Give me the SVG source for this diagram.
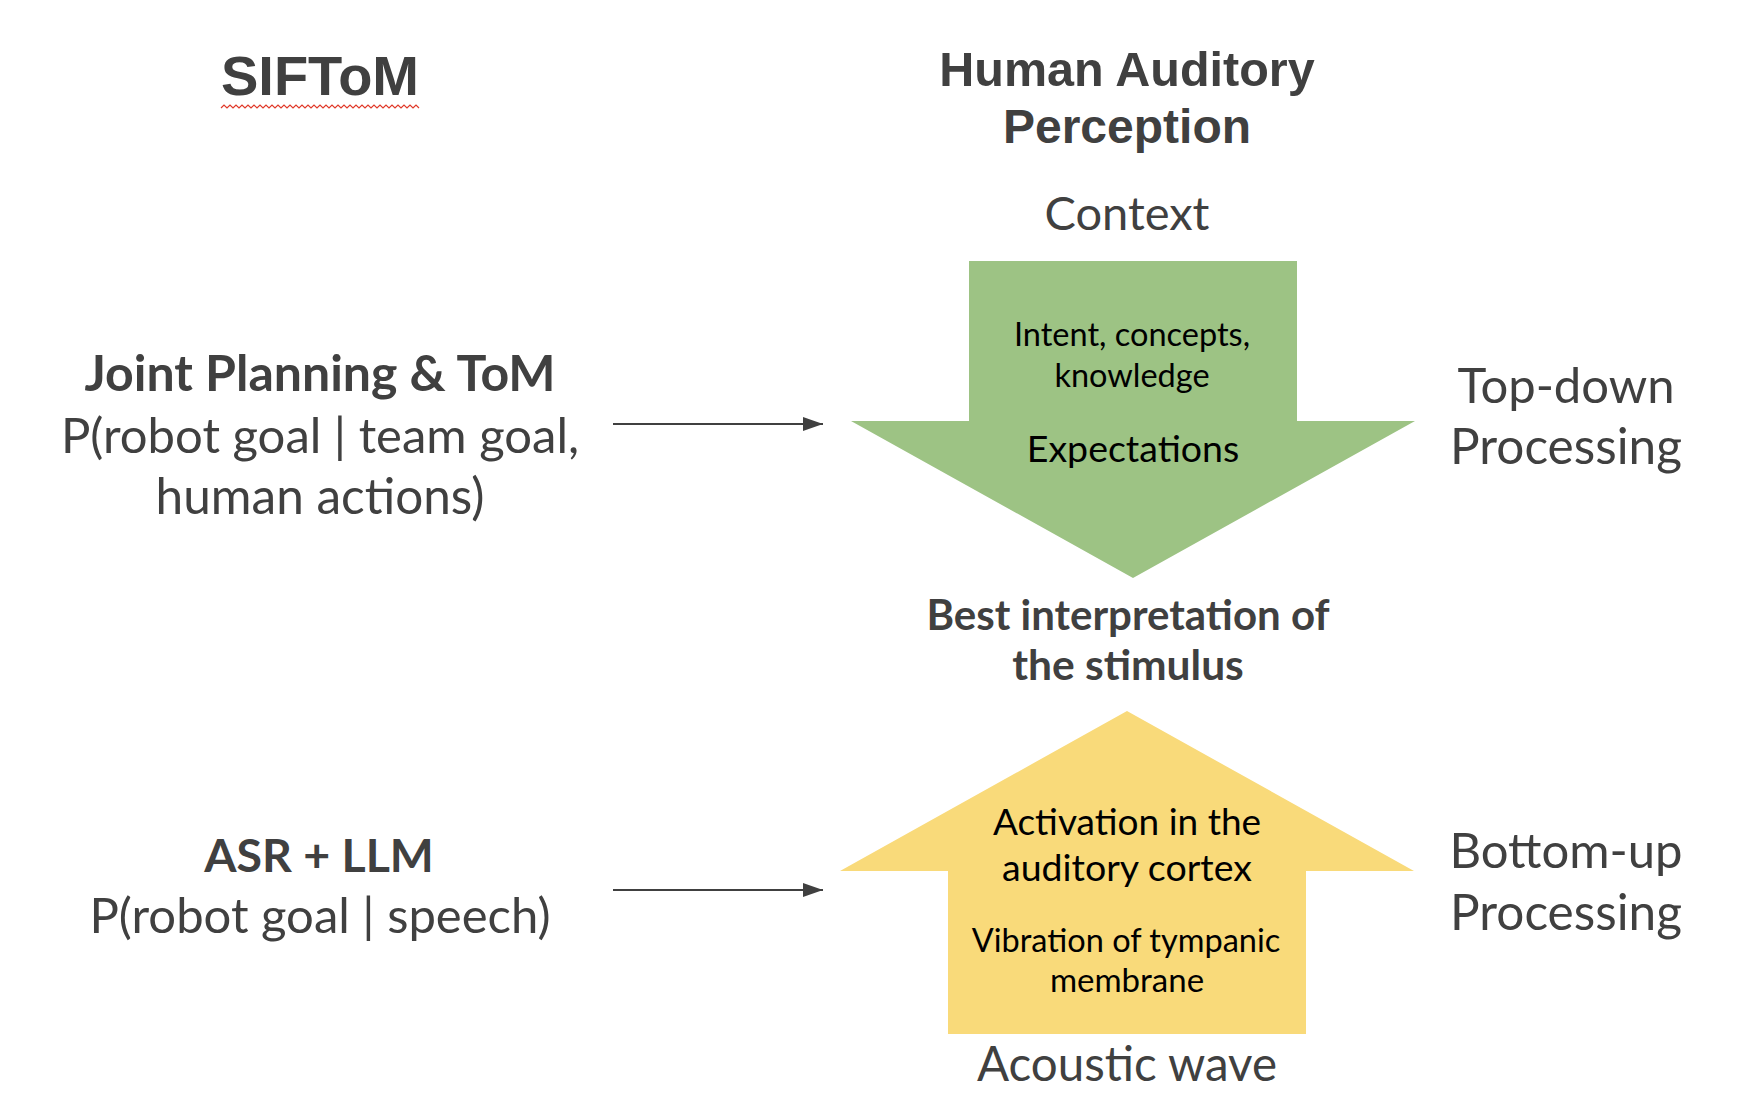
<svg xmlns="http://www.w3.org/2000/svg" width="1750" height="1118" viewBox="0 0 1750 1118">
<defs>
<style>
.t{font-family:Lato,"Noto Sans","DejaVu Sans",sans-serif;fill:#404040;text-anchor:middle}
.b{font-weight:bold}
.ar{font-family:"Liberation Sans",Arial,sans-serif;font-weight:bold;fill:#404040;text-anchor:middle}
.in{font-family:Lato,"Noto Sans","DejaVu Sans",sans-serif;fill:#000;text-anchor:middle}
.conn{stroke:#404040;stroke-width:2;fill:none}
</style>
<marker id="ah" viewBox="0 0 20 14" refX="20" refY="7" markerWidth="20" markerHeight="14" markerUnits="userSpaceOnUse" orient="auto">
<path d="M0,0 L20,7 L0,14 z" fill="#404040"/>
</marker>
</defs>
<rect width="1750" height="1118" fill="#fff"/>
<g id="title-siftom">
<text class="ar" x="320" y="95" font-size="56">SIFToM</text>
<path d="M221,108
l3,-3 l3,3 l3,-3 l3,3 l3,-3 l3,3 l3,-3 l3,3 l3,-3 l3,3 l3,-3 l3,3 l3,-3 l3,3 l3,-3 l3,3 l3,-3 l3,3 l3,-3 l3,3 l3,-3 l3,3
l3,-3 l3,3 l3,-3 l3,3 l3,-3 l3,3 l3,-3 l3,3 l3,-3 l3,3 l3,-3 l3,3 l3,-3 l3,3 l3,-3 l3,3 l3,-3 l3,3 l3,-3 l3,3 l3,-3 l3,3
l3,-3 l3,3 l3,-3 l3,3 l3,-3 l3,3 l3,-3 l3,3 l3,-3 l3,3 l3,-3 l3,3 l3,-3 l3,3 l3,-3 l3,3 l3,-3 l3,3 l3,-3 l3,3 l3,-3 l3,3" stroke="#e03a2a" stroke-width="1.2" fill="none"/>
</g>
<g id="title-human">
<text class="ar" x="1127" y="86" font-size="48.5">Human Auditory</text>
<text class="ar" x="1127" y="143" font-size="48">Perception</text>
</g>
<g id="joint-planning">
<text class="t b" x="320" y="391" font-size="50">Joint Planning &amp; ToM</text>
<text class="t" x="320" y="453" font-size="49">P(robot goal | team goal,</text>
<text class="t" x="320" y="514" font-size="49.5">human actions)</text>
</g>
<g id="asr-llm">
<text class="t b" x="319" y="872" font-size="46.5">ASR + LLM</text>
<text class="t" x="320" y="933" font-size="49">P(robot goal | speech)</text>
</g>
<g id="context">
<text class="t" x="1127" y="230" font-size="47">Context</text>
</g>
<g id="top-down-arrow">
<polygon points="969,261 1297,261 1297,421 1415,421 1133,578 851,421 969,421" fill="#9dc384"/>
<text class="in" x="1132" y="346" font-size="32.5">Intent, concepts,</text>
<text class="in" x="1132" y="387" font-size="32.5">knowledge</text>
<text class="in" x="1133" y="462" font-size="37.5">Expectations</text>
</g>
<g id="top-down-label">
<text class="t" x="1566" y="403" font-size="49">Top-down</text>
<text class="t" x="1566" y="464" font-size="49.5">Processing</text>
</g>
<g id="best-interpretation">
<text class="t b" x="1128" y="630" font-size="42">Best interpretation of</text>
<text class="t b" x="1128" y="680" font-size="42.5">the stimulus</text>
</g>
<g id="bottom-up-arrow">
<polygon points="1127,711 1414,871 1306,871 1306,1034 948,1034 948,871 840,871" fill="#f9da7a"/>
<text class="in" x="1127" y="835" font-size="37">Activation in the</text>
<text class="in" x="1127" y="881" font-size="37.5">auditory cortex</text>
<text class="in" x="1126" y="952" font-size="32.5">Vibration of tympanic</text>
<text class="in" x="1127" y="992" font-size="33">membrane</text>
</g>
<g id="bottom-up-label">
<text class="t" x="1566" y="868" font-size="49">Bottom-up</text>
<text class="t" x="1566" y="930" font-size="49.5">Processing</text>
</g>
<g id="acoustic-wave">
<text class="t" x="1127" y="1081" font-size="47.5">Acoustic wave</text>
</g>
<g id="connectors">
<line class="conn" x1="613" y1="424" x2="823" y2="424" marker-end="url(#ah)"/>
<line class="conn" x1="613" y1="890" x2="823" y2="890" marker-end="url(#ah)"/>
</g>
</svg>
